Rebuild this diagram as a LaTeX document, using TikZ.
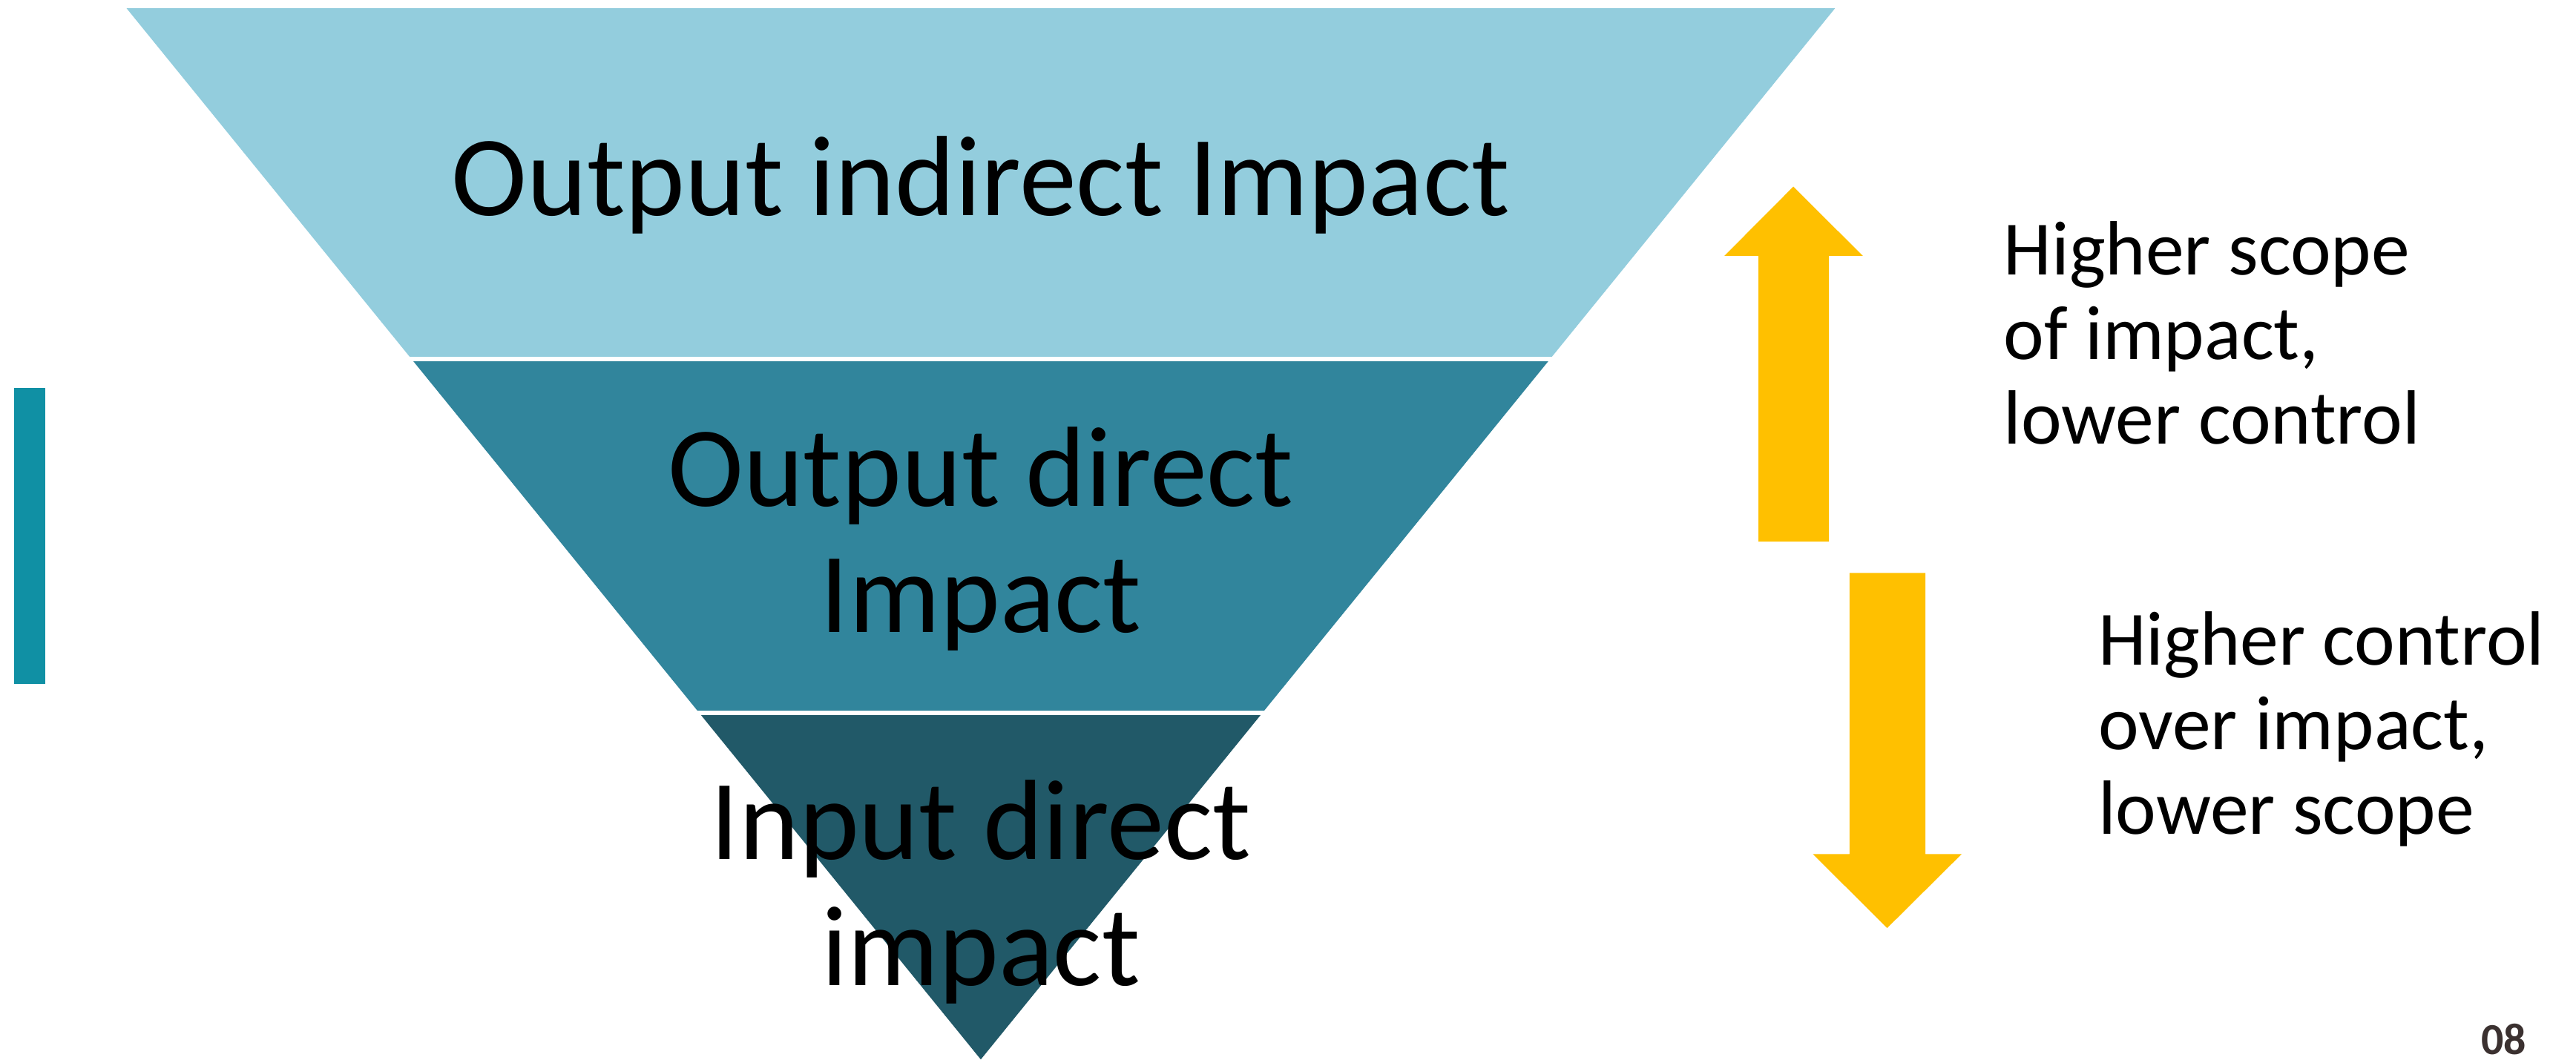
\documentclass[tikz,border=0pt]{standalone}
\usepackage{fontspec}
\setmainfont{Carlito}
\definecolor{lightband}{HTML}{93CDDD}
\definecolor{midband}{HTML}{31859C}
\definecolor{darkband}{HTML}{215968}
\definecolor{sidebar}{HTML}{1090A4}
\definecolor{arrowgold}{HTML}{FFC000}
\definecolor{pagenum}{HTML}{3B3130}
\begin{document}
\begin{tikzpicture}[x=1pt,y=-1pt,
  bigtext/.style={inner sep=0pt,anchor=base,font=\fontsize{69.5}{77}\selectfont},
  sidetext/.style={inner sep=0pt,anchor=base west,font=\fontsize{46.8}{51.5}\selectfont},
  gap/.style={draw=white,line width=2.3pt}]
\useasboundingbox (0,0) rectangle (1568,647);
% funnel bands
\fill[lightband] (77,5) -- (1117,5) -- (943.5,218.6) -- (250.5,218.6) -- cycle;
\fill[midband] (250.5,218.6) -- (943.5,218.6) -- (768.4,434) -- (425.6,434) -- cycle;
\fill[darkband] (425.6,434) -- (768.4,434) -- (597,645) -- cycle;
\draw[gap] (240,218.6) -- (955,218.6);
\draw[gap] (415,434) -- (780,434);
% side bar
\fill[sidebar] (8.7,236) rectangle (27.6,416.5);
% arrows
\fill[arrowgold] (1091.6,113.6) -- (1133.9,155.8) -- (1113.3,155.8) -- (1113.3,329.7)
  -- (1070.4,329.7) -- (1070.4,155.8) -- (1049.6,155.8) -- cycle;
\fill[arrowgold] (1148.7,565) -- (1194,520) -- (1172,520) -- (1172,348.8)
  -- (1125.8,348.8) -- (1125.8,520) -- (1103.5,520) -- cycle;
% funnel labels
\node[bigtext] (l1) at (597,131) {Output indirect Impact};
\node[bigtext] (l2a) at (597,308) {Output direct};
\node[bigtext] (l2b) at (597,385) {Impact};
\node[bigtext] (l3a) at (597,523) {Input direct};
\node[bigtext] (l3b) at (597,600) {impact};
% side labels
\node[sidetext] (u1) at (1219.5,167.5) {Higher scope};
\node[sidetext] (u2) at (1219.5,219) {of impact,};
\node[sidetext] (u3) at (1219.5,270.5) {lower control};
\node[sidetext] (d1) at (1277,405) {Higher control};
\node[sidetext] (d2) at (1277,456.5) {over impact,};
\node[sidetext] (d3) at (1277,508) {lower scope};
% page number
\node[inner sep=0pt,anchor=base,text=pagenum,font=\fontsize{27}{30}\selectfont\bfseries] (pg) at (1524,642) {08};
\end{tikzpicture}
\end{document}
